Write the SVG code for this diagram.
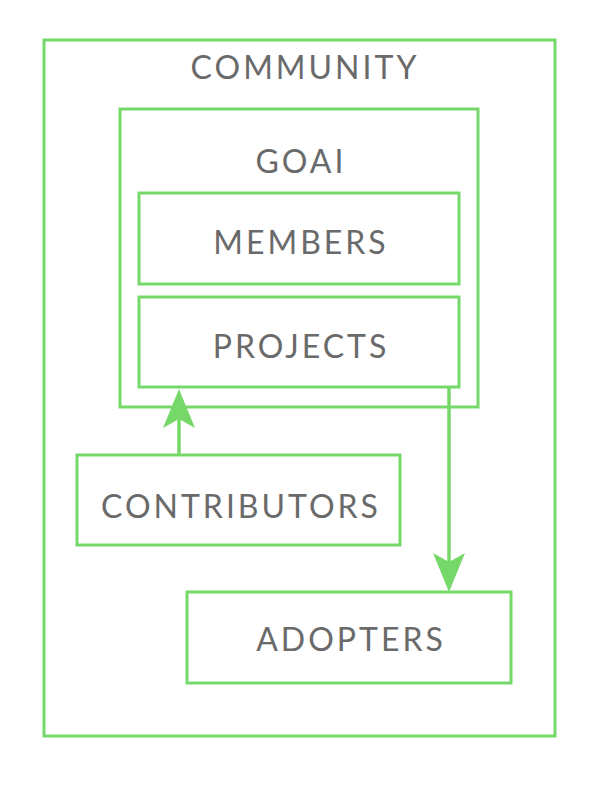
<svg xmlns="http://www.w3.org/2000/svg" width="600" height="800" viewBox="0 0 600 800">
<defs>
<style>
.box{fill:none;stroke:#77D86A;stroke-width:3}
.lbl{font-family:Lato,"Open Sans","Liberation Sans",sans-serif;font-size:32px;font-weight:400;letter-spacing:3px;fill:#6a6a6a;text-anchor:middle}
.edge{fill:none;stroke:#77D86A;stroke-width:3.5}
.head{fill:#77D86A}
</style>
</defs>
<rect width="600" height="800" fill="#ffffff"/>
<g id="community"><rect class="box" x="44" y="40" width="511" height="696"/><text class="lbl" x="305" y="79">COMMUNITY</text></g>
<g id="goai"><rect class="box" x="120" y="109" width="358" height="298"/><text class="lbl" x="301" y="173">GOAI</text></g>
<g id="members"><rect class="box" x="139" y="193" width="320" height="91"/><text class="lbl" x="301" y="254">MEMBERS</text></g>
<g id="projects"><rect class="box" x="139" y="297" width="320" height="90"/><text class="lbl" x="301" y="358">PROJECTS</text></g>
<g id="contributors"><rect class="box" x="77" y="455" width="323" height="90"/><text class="lbl" x="241" y="518">CONTRIBUTORS</text></g>
<g id="adopters"><rect class="box" x="187" y="592" width="324" height="91"/><text class="lbl" x="351" y="651">ADOPTERS</text></g>
<g id="connectors">
<line class="edge" x1="179" y1="455" x2="179" y2="415"/>
<path class="head" d="M179 389 L195 428 L179 419 L163 428 Z"/>
<line class="edge" x1="449" y1="387" x2="449" y2="565"/>
<path class="head" d="M449 592 L465 553 L449 562 L433 553 Z"/>
</g>
</svg>
